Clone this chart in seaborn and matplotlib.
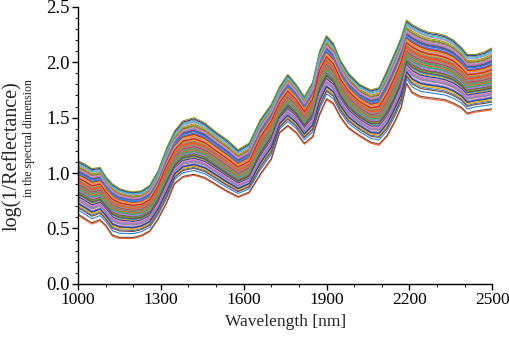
import numpy as np
import pandas as pd
import seaborn as sns
import matplotlib
matplotlib.use('Agg')
import matplotlib.pyplot as plt
from matplotlib.ticker import MultipleLocator, FormatStrFormatter

wavelength = [1000, 1025, 1050, 1080, 1100, 1125, 1150, 1175, 1200, 1230,
              1260, 1290, 1320, 1350, 1380, 1420, 1460, 1500, 1540, 1580,
              1620, 1660, 1700, 1730, 1760, 1790, 1820, 1850, 1875, 1900,
              1925, 1950, 1980, 2020, 2060, 2090, 2120, 2150, 2170, 2190,
              2210, 2240, 2270, 2300, 2330, 2360, 2390, 2410, 2440, 2470, 2500]

# lowest spectrum (orange outlier)
low = [0.62, 0.58, 0.54, 0.57, 0.52, 0.43, 0.41, 0.41, 0.41, 0.43,
       0.47, 0.58, 0.72, 0.90, 0.96, 0.98, 0.95, 0.89, 0.83, 0.78,
       0.82, 0.98, 1.12, 1.36, 1.42, 1.36, 1.26, 1.32, 1.52, 1.66,
       1.62, 1.50, 1.40, 1.33, 1.27, 1.25, 1.33, 1.47, 1.58, 1.80,
       1.72, 1.68, 1.67, 1.66, 1.65, 1.62, 1.58, 1.53, 1.55, 1.56, 1.57]

# centre of the dense band
mid = [0.88, 0.85, 0.81, 0.83, 0.77, 0.70, 0.67, 0.66, 0.65, 0.66,
       0.70, 0.82, 0.99, 1.13, 1.20, 1.22, 1.19, 1.12, 1.05, 0.98,
       1.03, 1.25, 1.40, 1.57, 1.67, 1.60, 1.49, 1.60, 1.85, 1.96,
       1.90, 1.77, 1.66, 1.57, 1.51, 1.52, 1.62, 1.78, 1.90, 2.08,
       2.04, 2.00, 1.98, 1.97, 1.95, 1.92, 1.86, 1.80, 1.81, 1.82, 1.84]

# highest spectrum
high = [1.11, 1.08, 1.04, 1.05, 0.97, 0.90, 0.86, 0.84, 0.83, 0.84,
        0.89, 1.02, 1.22, 1.38, 1.47, 1.50, 1.45, 1.37, 1.30, 1.21,
        1.27, 1.48, 1.62, 1.78, 1.89, 1.80, 1.69, 1.82, 2.10, 2.24,
        2.17, 2.02, 1.90, 1.80, 1.75, 1.77, 1.93, 2.10, 2.22, 2.38,
        2.34, 2.30, 2.27, 2.26, 2.24, 2.20, 2.13, 2.07, 2.07, 2.09, 2.13]

# position of each sample inside the band (-1 = lowest, 0 = centre, 1 = highest)
weights = [-1.00, -0.96, -0.82, 0.35, -0.10, 0.62, -0.45, 0.15, 0.80, -0.30,
           0.05, -0.62, 0.48, 0.22, -0.18, 0.70, -0.05, 0.30, -0.55, 0.92,
           0.10, -0.38, 0.55, -0.25, 0.40, 0.00, -0.70, 0.66, 0.18, -0.12,
           0.85, -0.48, 0.26, -0.02, 0.58, -0.33, 0.12, 0.74, -0.58, 0.44,
           -0.20, 0.08, 0.52, -0.42, 0.34, -0.08, 0.96, -0.66, 0.20, 0.60,
           -0.28, 0.02, 0.46, -0.15, 0.38, -0.50, 0.76, 0.14, -0.36, 0.28,
           -0.04, -0.74, 0.50, -0.22, 0.06, 0.64, -0.40, 0.24, 1.00, 0.88,
           -0.60, 0.42, 0.16, -0.26, 0.56, -0.10, 0.32, -0.46, 0.68, 0.04]

xticks = [1000, 1300, 1600, 1900, 2200, 2500]

line_colors = ['#ff5a1f', '#7a4a3a', '#2b7fe0', '#3cb043', '#e8151b',
               '#a07ad6', '#ee82c8', '#8c8c8c', '#9a9a20', '#20c8d8',
               '#1f3fa0', '#f0a30a']

low_a, mid_a, high_a = np.array(low), np.array(mid), np.array(high)
rows = []
for i, w in enumerate(weights):
    if w < 0:
        vals = mid_a + w * (mid_a - low_a)
    else:
        vals = mid_a + w * (high_a - mid_a)
    rows.append(pd.DataFrame({'wavelength': wavelength, 'value': vals, 'sample': i}))
df = pd.concat(rows, ignore_index=True)
palette = [line_colors[i % len(line_colors)] for i in range(len(weights))]
palette[weights.index(1.00)] = '#8a8a12'
palette[weights.index(-1.00)] = '#ff5a1f'

sns.set_style('ticks')
plt.rcParams['font.family'] = ['Liberation Serif', 'DejaVu Serif']

fig = plt.figure(figsize=(5.1, 3.4), dpi=100)
ax = fig.add_axes([0.153, 0.165, 0.812, 0.815])

sns.lineplot(data=df, x='wavelength', y='value', hue='sample', palette=palette,
             estimator=None, legend=False, linewidth=0.8, ax=ax)

ax.set_xlim(1000, 2500)
ax.set_ylim(0, 2.5)
ax.set_xticks(xticks)
ax.xaxis.set_minor_locator(MultipleLocator(100))
ax.yaxis.set_major_locator(MultipleLocator(0.5))
ax.yaxis.set_minor_locator(MultipleLocator(0.1))
ax.yaxis.set_major_formatter(FormatStrFormatter('%.1f'))
ax.tick_params(which='major', direction='out', length=4, width=1, colors='black', pad=2)
ax.tick_params(axis='x', labelsize=12.5)
ax.tick_params(axis='y', labelsize=13.5)
ax.tick_params(which='minor', direction='out', length=2.5, width=0.8)
sns.despine(ax=ax)
for s in ['left', 'bottom']:
    ax.spines[s].set_color('black')
    ax.spines[s].set_linewidth(1)

ax.set_xlabel('Wavelength [nm]', fontsize=12.5, labelpad=4)
ax.set_ylabel('')
fig.text(0.022, 0.54, 'log(1/Reflectance)', rotation=90, fontsize=14.5,
         ha='center', va='center')
fig.text(0.056, 0.593, 'in the spectral dimension', rotation=90, fontsize=8.5,
         ha='center', va='center')

fig.savefig('out.png', dpi=100)
